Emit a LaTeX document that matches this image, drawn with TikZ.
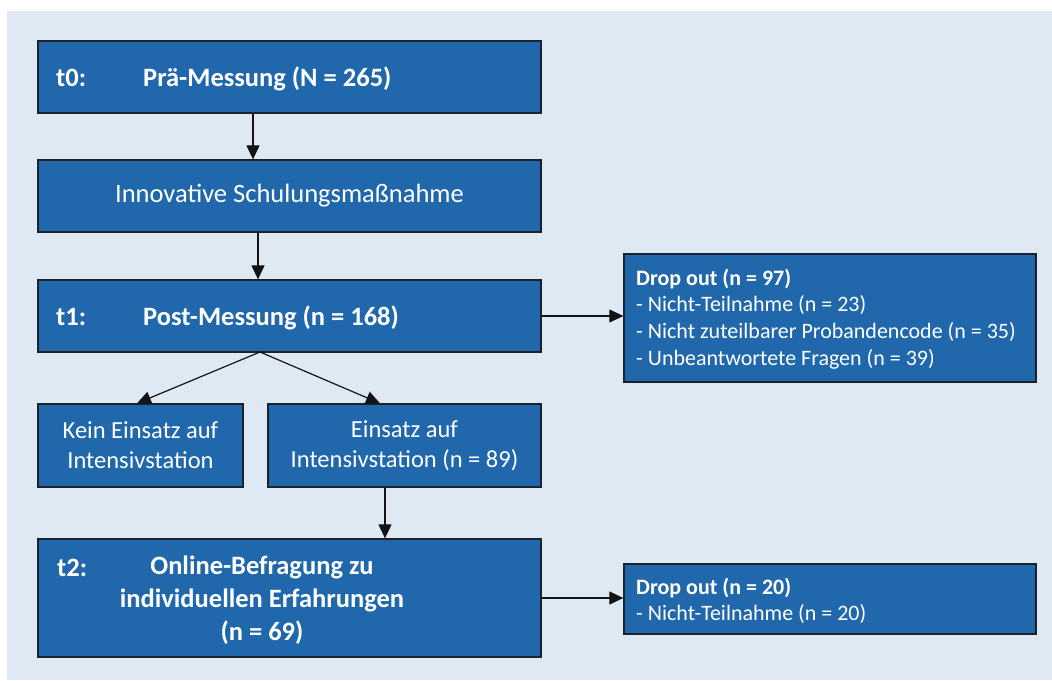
\documentclass[tikz,border=0pt]{standalone}
\usepackage{fontspec}
\setmainfont{Carlito}
\usetikzlibrary{arrows.meta}
\definecolor{bgblue}{RGB}{223,233,243}
\definecolor{boxblue}{RGB}{32,104,171}
\definecolor{edgecol}{RGB}{28,34,44}
\definecolor{arrcol}{RGB}{20,20,20}
\begin{document}
\begin{tikzpicture}[x=1pt,y=-1pt,
  box/.style={draw=edgecol,line width=1.3pt,fill=boxblue,inner sep=0pt,text=white,
    font=\fontsize{26.5}{31}\selectfont,align=center},
  smallbox/.style={box,font=\fontsize{24.5}{30}\selectfont},
  lbl/.style={text=white,inner sep=0pt,font=\fontsize{26.5}{33}\selectfont\bfseries},
  dtext/.style={text=white,inner sep=0pt,align=left,font=\fontsize{22}{26.7}\selectfont},
  arr/.style={draw=arrcol,line width=1.2pt,-{Triangle[length=14pt,width=13pt]}}]
\useasboundingbox (0,0) rectangle (1052,680);
\fill[bgblue] (7,11) rectangle (1052,680);
% boxes
\node[box,minimum width=503pt,minimum height=72pt] (t0) at (289.5,77) {};
\node[box,minimum width=503pt,minimum height=72pt] (inn) at (289.5,196) {Innovative Schulungsmaßnahme};
\node[box,minimum width=503pt,minimum height=72pt] (t1) at (289.5,316) {};
\node[smallbox,minimum width=205pt,minimum height=83pt] (kein) at (140.5,445.5) {Kein Einsatz auf\\Intensivstation};
\node[smallbox,minimum width=273pt,minimum height=83pt] (ein) at (404.5,445.5) {Einsatz auf\\Intensivstation (n = 89)};
\node[box,minimum width=503pt,minimum height=118pt] (t2) at (289.5,598) {};
\node[box,minimum width=412pt,minimum height=128pt] (d1) at (830,318) {};
\node[box,minimum width=412pt,minimum height=70pt] (d2) at (830,599) {};
% texts
\node[lbl,anchor=base west] (t0a) at (56,86) {t0:};
\node[lbl,anchor=base west] (t0b) at (143,86) {Prä-Messung (N = 265)};
\node[lbl,anchor=base west] (t1a) at (56,325) {t1:};
\node[lbl,anchor=base west] (t1b) at (143,325) {Post-Messung (n = 168)};
\node[lbl,anchor=base west] (t2a) at (57,576) {t2:};
\node[lbl,align=center] (t2b) at (262,600) {Online-Befragung zu\\individuellen Erfahrungen\\(n = 69)};
\node[dtext,anchor=west] (d1t) at (636,319) {\textbf{Drop out (n = 97)}\\- Nicht-Teilnahme (n = 23)\\- Nicht zuteilbarer Probandencode (n = 35)\\- Unbeantwortete Fragen (n = 39)};
\node[dtext,anchor=west] (d2t) at (636,601) {\textbf{Drop out (n = 20)}\\- Nicht-Teilnahme (n = 20)};
% connectors
\draw[arr] (253,0 |- t0.south) -- (253,0 |- inn.north);
\draw[arr] (258,0 |- inn.south) -- (258,0 |- t1.north);
\draw[arr] (t1.east) -- (t1.east -| d1.west);
\coordinate (split) at (260,352);
\draw[arr] (split) -- (137,0 |- kein.north);
\draw[arr] (split) -- (380,0 |- ein.north);
\draw[arr] (385,0 |- ein.south) -- (385,0 |- t2.north);
\draw[arr] (t2.east) -- (t2.east -| d2.west);
\end{tikzpicture}
\end{document}
